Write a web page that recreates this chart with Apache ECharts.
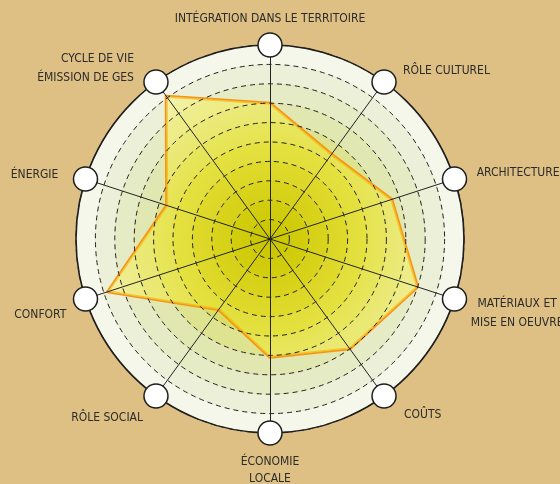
<!DOCTYPE html>
<html>
<head>
<meta charset="utf-8">
<script src="https://cdn.jsdelivr.net/npm/echarts@6/dist/echarts.min.js"></script>
<style>
html, body { margin: 0; padding: 0; background: #dec084; }
#chart { width: 560px; height: 484px; }
</style>
</head>
<body>
<div id="chart"></div>
<script>
// indicators, counter-clockwise from the top (echarts default order)
var axes = ['INTÉGRATION DANS LE TERRITOIRE', 'CYCLE DE VIE\nÉMISSION DE GES', 'ÉNERGIE', 'CONFORT', 'RÔLE SOCIAL',
    'ÉCONOMIE\nLOCALE', 'COÛTS', 'MATÉRIAUX ET\nMISE EN OEUVRE', 'ARCHITECTURE', 'RÔLE CULTUREL'];
var scores = [7, 9.1, 5.6, 8.8, 4.5, 6.1, 7, 8, 6.6, 5.4];
var maxScore = 10;

var cx = 270, cy = 239, rad = 194;
var font = '"Liberation Sans Narrow", "DejaVu Sans Condensed", sans-serif';
var ink = '#2b2b2b';

// rings, inner to outer
var ringColors = ['#c2c400', '#c8ca10', '#cfd028', '#d5d642', '#dadd66', '#dde38e', '#e0e7b0', '#e5ebc4', '#ecf0d8', '#f5f7eb'];

var indicator = axes.map(function (name) {
    return { name: name, max: maxScore };
});
var full = axes.map(function () { return maxScore; });

// label nudges: rich key per label line
function nameFmt(name) {
    var first = name.split('\n')[0];
    var keys = {
        'RÔLE CULTUREL': ['cul'],
        'ARCHITECTURE': ['arc'],
        'MATÉRIAUX ET': ['mat1', 'mat2'],
        'COÛTS': ['cou'],
        'ÉCONOMIE': ['eco1', 'eco2'],
        'RÔLE SOCIAL': ['soc'],
        'CONFORT': ['con'],
        'ÉNERGIE': ['ene'],
        'CYCLE DE VIE': ['cyc', 'cyc']
    }[first] || ['t'];
    return name.split('\n').map(function (s, i) {
        return '{' + keys[i] + '|' + s + '}';
    }).join('\n');
}

function tx(extra) {
    var s = { fontFamily: font, fontSize: 12, color: ink };
    for (var k in extra) s[k] = extra[k];
    return s;
}

var chart = echarts.init(document.getElementById('chart'));
chart.setOption({
    backgroundColor: '#dec084',
    animation: false,
    radar: [{
        z: 0,
        center: [cx, cy],
        radius: rad,
        startAngle: 90,
        shape: 'circle',
        splitNumber: 10,
        indicator: indicator,
        axisName: { show: false },
        axisLine: { show: false },
        axisTick: { show: false },
        splitLine: { show: false },
        splitArea: { show: true, areaStyle: { color: ringColors } }
    }, {
        z: 3,
        center: [cx, cy],
        radius: rad,
        startAngle: 90,
        shape: 'circle',
        splitNumber: 10,
        indicator: indicator,
        axisNameGap: 17,
        axisName: {
            color: ink,
            fontFamily: font,
            fontSize: 12,
            formatter: nameFmt,
            rich: {
                t: tx({ padding: [0, 0, 3, 0] }),
                cul: tx({ padding: [5, 0, 0, 9] }),
                arc: tx({ padding: [0, 0, 2, 6] }),
                mat1: tx({ padding: [26, 0, 0, 0], align: 'center' }),
                mat2: tx({ lineHeight: 26, align: 'center' }),
                cou: tx({ padding: [11, 0, 0, 10] }),
                eco1: tx({ padding: [6, 0, 0, 0], align: 'center' }),
                eco2: tx({ lineHeight: 22, align: 'center' }),
                soc: tx({ padding: [17, 3, 0, 0] }),
                con: tx({ padding: [22, 3, 0, 0] }),
                ene: tx({ padding: [2, 11, 0, 0] }),
                cyc: tx({ lineHeight: 19, padding: [0, 12, 0, 0], align: 'right' })
            }
        },
        axisLine: { lineStyle: { color: '#222', width: 1 } },
        axisTick: { show: false },
        splitLine: { lineStyle: { color: '#222', width: 1, type: [5, 4] } },
        splitArea: { show: false }
    }, {
        z: 3,
        center: [cx, cy],
        radius: rad,
        startAngle: 90,
        shape: 'circle',
        splitNumber: 1,
        indicator: indicator,
        axisName: { show: false },
        axisLine: { show: false },
        axisTick: { show: false },
        splitLine: { lineStyle: { color: '#1e1e1e', width: 1.6 } },
        splitArea: { show: false }
    }],
    series: [{
        type: 'radar',
        radarIndex: 0,
        z: 2,
        symbol: 'none',
        lineStyle: { color: '#f59514', width: 3 },
        areaStyle: {
            opacity: 1,
            color: {
                type: 'radial', x: cx, y: cy, r: rad, global: true,
                colorStops: [
                    { offset: 0, color: 'rgba(205,198,0,0.6)' },
                    { offset: 0.5, color: 'rgba(238,228,30,0.55)' },
                    { offset: 0.75, color: 'rgba(245,238,90,0.55)' },
                    { offset: 1, color: 'rgba(250,246,150,0.5)' }
                ]
            }
        },
        data: [{ value: scores }]
    }, {
        type: 'radar',
        radarIndex: 0,
        z: 5,
        symbol: 'circle',
        symbolSize: 24,
        itemStyle: { color: '#fff', borderColor: '#1e1e1e', borderWidth: 1.5 },
        lineStyle: { width: 0, opacity: 0 },
        silent: true,
        data: [{ value: full }]
    }]
});
</script>
</body>
</html>
